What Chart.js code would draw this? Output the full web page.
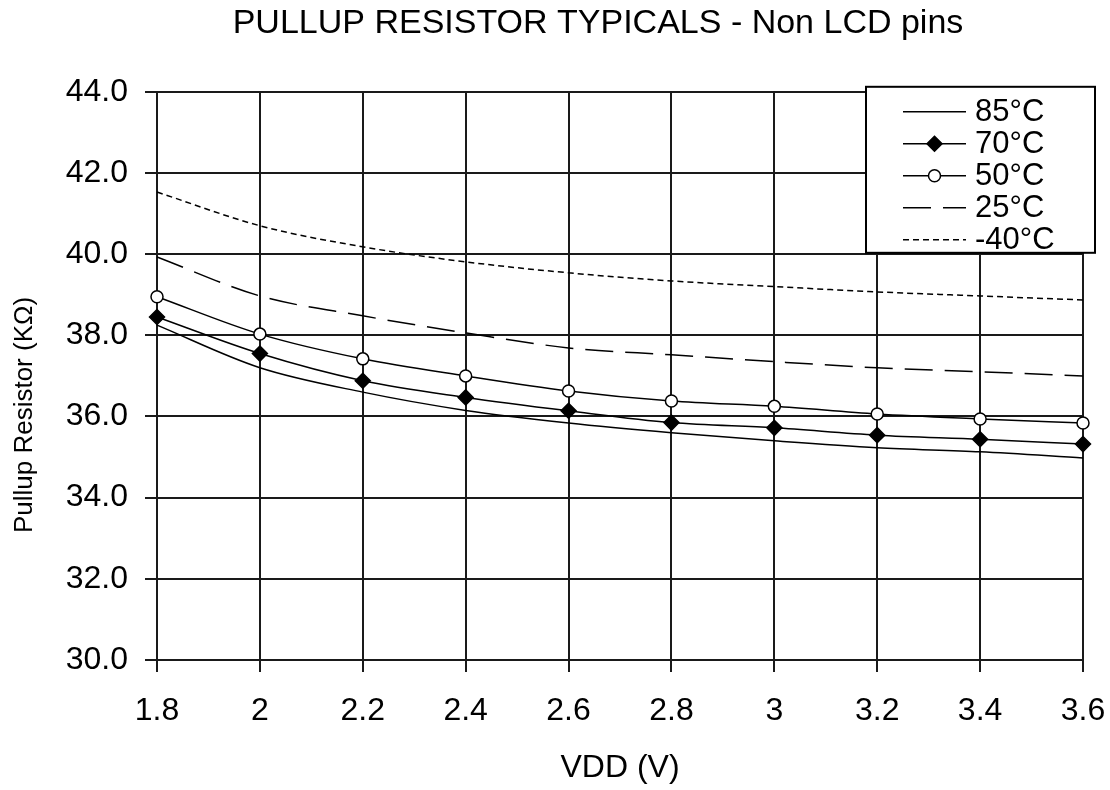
<!DOCTYPE html>
<html>
<head>
<meta charset="utf-8">
<script src="https://cdn.jsdelivr.net/npm/chart.js@4/dist/chart.umd.min.js"></script>
<style>
  body { margin: 0; background: #fff; }
  #wrap { width: 1110px; height: 790px; }
</style>
</head>
<body>
<div id="wrap"><canvas id="myChart"></canvas></div>
<script>
// supply voltage (V) on the x axis
const vdd = ['1.8', '2', '2.2', '2.4', '2.6', '2.8', '3', '3.2', '3.4', '3.6'];
// pullup resistance (KOhm) per temperature
const r85 = [38.25, 37.20, 36.60, 36.15, 35.84, 35.60, 35.40, 35.23, 35.13, 34.98];
const r70 = [38.45, 37.55, 36.88, 36.47, 36.14, 35.85, 35.72, 35.54, 35.44, 35.32];
const r50 = [38.95, 38.03, 37.42, 37.00, 36.63, 36.38, 36.25, 36.06, 35.94, 35.84];
const r25 = [39.93, 38.97, 38.48, 38.06, 37.69, 37.52, 37.35, 37.20, 37.10, 37.00];
const rm40 = [41.53, 40.70, 40.18, 39.81, 39.54, 39.34, 39.20, 39.07, 38.97, 38.87];
const yMin = 30, yMax = 44, yStep = 2;
const yTitle = 'Pullup Resistor (KΩ)';

const font = "'Liberation Sans', Arial, sans-serif";
const ink = '#000';
const gridInk = '#1a1a1a';

// the original title sits a bit right of the page centre
const shiftTitle = {
  id: 'shiftTitle',
  afterLayout(chart) {
    if (chart.titleBlock) chart.titleBlock.left = 86;
  }
};

// y axis title, placed like the original (a little below the axis middle)
const sideTitle = {
  id: 'sideTitle',
  afterDraw(chart) {
    const ctx = chart.ctx;
    ctx.save();
    ctx.translate(25, 415);
    ctx.rotate(-Math.PI / 2);
    ctx.font = '26px ' + font;
    ctx.fillStyle = ink;
    ctx.textAlign = 'center';
    ctx.textBaseline = 'middle';
    ctx.fillText(yTitle, 0, 0);
    ctx.restore();
  }
};

// legend drawn as a framed box over the top right corner, like the original
const boxLegend = {
  id: 'boxLegend',
  afterDraw(chart) {
    const ctx = chart.ctx;
    const area = chart.chartArea;
    const left = area.right - 217, top = area.top - 5;
    const w = 229, h = 166;
    ctx.save();
    ctx.fillStyle = '#fff';
    ctx.fillRect(left, top, w, h);
    ctx.strokeStyle = ink;
    ctx.lineWidth = 2;
    ctx.strokeRect(left, top, w, h);
    ctx.font = '31px ' + font;
    ctx.textBaseline = 'middle';
    chart.data.datasets.forEach((ds, i) => {
      const y = top + 25 + i * 32;
      const x0 = left + 37, x1 = left + 100;
      ctx.setLineDash(ds.borderDash || []);
      ctx.lineWidth = ds.borderWidth;
      ctx.strokeStyle = ink;
      ctx.beginPath();
      ctx.moveTo(x0, y);
      ctx.lineTo(x1, y);
      ctx.stroke();
      ctx.setLineDash([]);
      const cx = (x0 + x1) / 2;
      if (ds.pointRadius > 0) {
        const r = ds.pointRadius;
        ctx.beginPath();
        if (ds.pointStyle === 'rectRot') {
          ctx.moveTo(cx, y - r); ctx.lineTo(cx + r, y); ctx.lineTo(cx, y + r); ctx.lineTo(cx - r, y);
          ctx.closePath();
        } else {
          ctx.arc(cx, y, r, 0, Math.PI * 2);
        }
        ctx.fillStyle = ds.pointBackgroundColor;
        ctx.fill();
        ctx.lineWidth = ds.pointBorderWidth;
        ctx.stroke();
      }
      ctx.fillStyle = ink;
      ctx.fillText(ds.label, left + 109, y + 1);
    });
    ctx.restore();
  }
};

const line = (label, data, extra) => Object.assign({
  label: label,
  data: data,
  borderColor: ink,
  borderWidth: 1.5,
  pointRadius: 0,
  pointHoverRadius: 0,
  pointBackgroundColor: ink,
  pointBorderColor: ink,
  pointBorderWidth: 1.5,
  cubicInterpolationMode: 'monotone',
  fill: false,
  clip: false
}, extra);

new Chart(document.getElementById('myChart'), {
  type: 'line',
  data: {
    labels: vdd,
    datasets: [
      line('85°C', r85, {}),
      line('70°C', r70, { pointStyle: 'rectRot', pointRadius: 7.5 }),
      line('50°C', r50, { pointStyle: 'circle', pointRadius: 6, pointBackgroundColor: '#fff' }),
      line('25°C', r25, { borderDash: [28, 12] }),
      line('-40°C', rm40, { borderDash: [6, 4] })
    ]
  },
  options: {
    responsive: true,
    maintainAspectRatio: false,
    animation: false,
    layout: { padding: 0 },
    plugins: {
      legend: { display: false },
      tooltip: { enabled: false },
      title: {
        display: true,
        text: 'PULLUP RESISTOR TYPICALS - Non LCD pins',
        color: ink,
        font: { family: font, size: 34, weight: 'normal', lineHeight: 1.2 },
        padding: { top: 3, bottom: 48 }
      }
    },
    scales: {
      x: {
        offset: false,
        grid: { color: gridInk, lineWidth: 2, drawTicks: true, tickLength: 12, tickColor: gridInk },
        border: { color: gridInk, width: 2 },
        ticks: { color: ink, font: { family: font, size: 32 }, padding: 20, maxRotation: 0, autoSkip: false },
        title: { display: true, text: 'VDD (V)', color: ink, font: { family: font, size: 32 }, padding: { top: 0, bottom: 3 } },
        afterFit: (s) => { s.height = 130; s.paddingRight = 27; }
      },
      y: {
        min: yMin,
        max: yMax,
        grid: { color: gridInk, lineWidth: 2, drawTicks: true, tickLength: 12, tickColor: gridInk },
        border: { color: gridInk, width: 2 },
        ticks: {
          stepSize: yStep,
          color: ink,
          font: { family: font, size: 32 },
          padding: 17,
          callback: (v) => v.toFixed(1)
        },
        title: { display: false, text: yTitle },
        afterFit: (s) => { s.width = 157; }
      }
    }
  },
  plugins: [shiftTitle, sideTitle, boxLegend]
});
</script>
</body>
</html>
